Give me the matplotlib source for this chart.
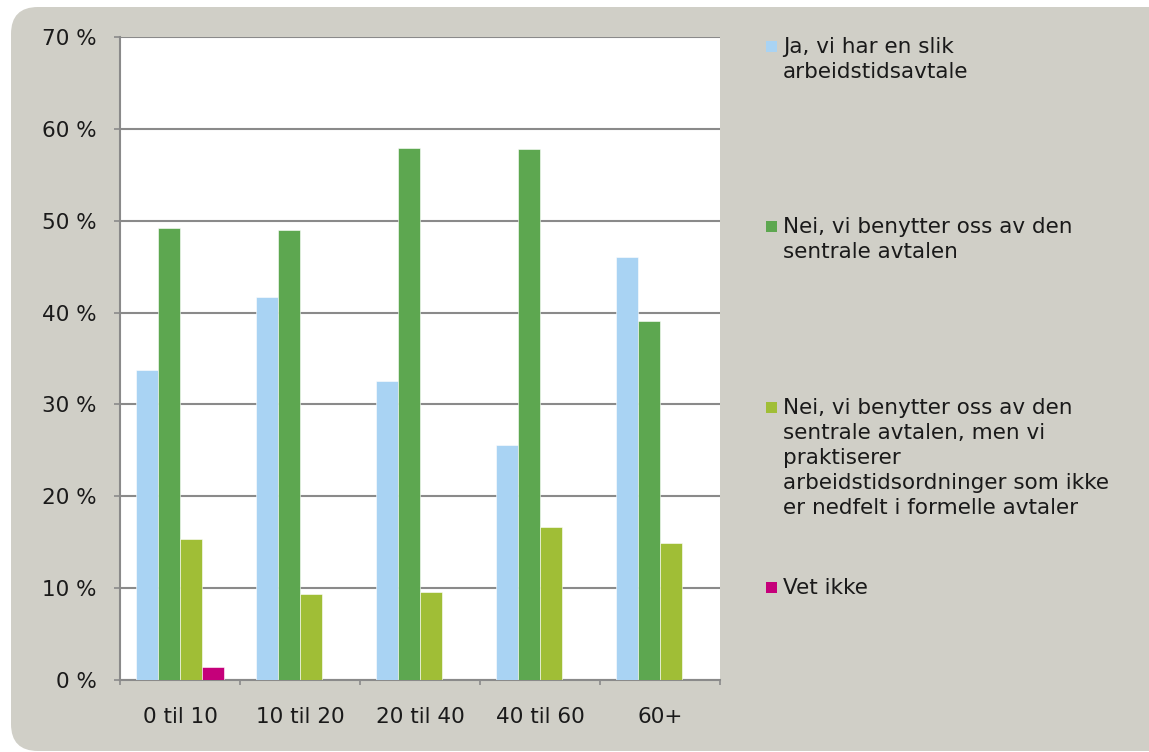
import matplotlib
matplotlib.use("Agg")
import matplotlib.pyplot as plt
import numpy as np
from matplotlib.patches import FancyBboxPatch, Rectangle
from matplotlib.transforms import IdentityTransform

# Share of respondents (%) by group size
categories = ["0 til 10", "10 til 20", "20 til 40", "40 til 60", "60+"]
series_labels = [
    "Ja, vi har en slik\narbeidstidsavtale",
    "Nei, vi benytter oss av den\nsentrale avtalen",
    "Nei, vi benytter oss av den\nsentrale avtalen, men vi\npraktiserer\n"
    "arbeidstidsordninger som ikke\ner nedfelt i formelle avtaler",
    "Vet ikke",
]
ja_values = [33.7, 41.7, 32.5, 25.6, 46.0]
nei_values = [49.2, 49.0, 57.9, 57.8, 39.1]
nei_men_values = [15.4, 9.4, 9.6, 16.7, 14.9]
vet_ikke_values = [1.4, 0.0, 0.0, 0.0, 0.0]
y_ticks = [0, 10, 20, 30, 40, 50, 60, 70]

COLORS = ["#A9D3F3", "#5DA750", "#A0BE36", "#C5007A"]
BG = "#D0CFC7"
AXIS_GREY = "#8A8A8A"
TEXT = "#1A1A1A"
FS = 15.5

W, H = 1149, 752
plt.rcParams["font.family"] = ["DejaVu Sans"]

fig = plt.figure(figsize=(W / 100, H / 100), dpi=100)
fig.patch.set_facecolor("white")

# rounded grey panel behind everything (pixel coordinates)
panel = FancyBboxPatch(
    (11, 1), 1180, H - 8,
    boxstyle="round,pad=0,rounding_size=27",
    transform=IdentityTransform(),
    facecolor=BG, edgecolor="none", zorder=-5,
)
fig.patches.append(panel)

ax = fig.add_axes([120 / W, (H - 680) / H, 600 / W, 643 / H])
ax.set_facecolor("white")
ax.set_zorder(1)

x = np.arange(len(categories))
width = 22 / 120
all_series = [ja_values, nei_values, nei_men_values, vet_ikke_values]
for i, (vals, color) in enumerate(zip(all_series, COLORS)):
    ax.bar(
        x + (i - 1.5) * width,
        vals,
        width=width,
        color=color,
        edgecolor="white",
        linewidth=[0.4 if v > 0 else 0 for v in vals],
        zorder=3,
    )

ax.set_xlim(-0.5, len(categories) - 0.5)
ax.set_ylim(0, 70)
ax.set_yticks(y_ticks)
ax.set_yticklabels([f"{v} %" for v in y_ticks])
ax.grid(True, axis="y", color=AXIS_GREY, linewidth=1.5, zorder=0)
ax.set_axisbelow(True)

ax.set_xticks(x)
ax.set_xticklabels(categories)
ax.set_xticks(np.arange(len(categories) + 1) - 0.5, minor=True)
ax.tick_params(axis="x", which="major", length=0, pad=19.2,
               labelsize=FS, labelcolor=TEXT)
ax.tick_params(axis="x", which="minor", length=3.6, width=1.2,
               color=AXIS_GREY, direction="out")
ax.tick_params(axis="y", length=4.3, width=1.2, color=AXIS_GREY,
               direction="out", pad=12.5, labelsize=FS, labelcolor=TEXT)

for side in ("top", "right"):
    ax.spines[side].set_visible(False)
for side in ("left", "bottom"):
    ax.spines[side].set_color(AXIS_GREY)
    ax.spines[side].set_linewidth(1.5)

# legend entries spaced evenly down the right side
baselines = [53, 233, 414, 594]
for label, color, base in zip(series_labels, COLORS, baselines):
    fig.patches.append(
        Rectangle((766, H - base + 1), 11, 11,
                  transform=IdentityTransform(),
                  facecolor=color, edgecolor="none", zorder=2)
    )
    fig.text(783 / W, (H - base + 16.3) / H, label,
             fontsize=FS, color=TEXT, va="top", ha="left", linespacing=1.32)

fig.savefig("out.png", dpi=100, facecolor=fig.get_facecolor())
